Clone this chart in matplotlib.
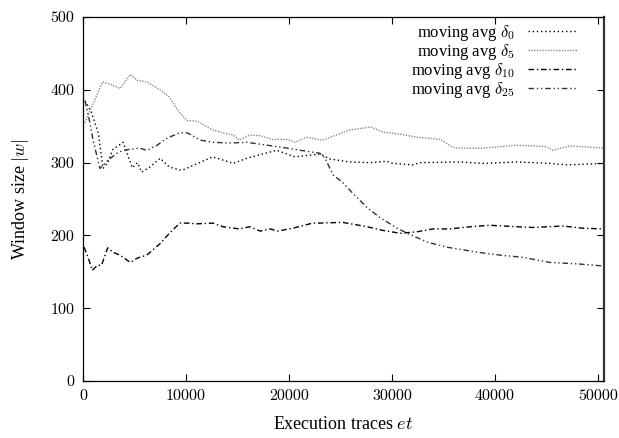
import matplotlib
matplotlib.use("Agg")
import matplotlib.pyplot as plt

# moving averages
d0_x = [200, 800, 1500, 1950, 2400, 2900, 3300, 3900, 4300, 4800, 5300, 5700,
        6500, 7500, 8400, 9400, 9700, 12600, 14600, 15900, 18800, 20600, 23000,
        24000, 25900, 27900, 29500, 30100, 32000, 32700, 36600, 37600, 38800,
        42100, 45300, 47000, 50600]
d0_y = [385, 370, 340, 292, 300, 318, 322, 328, 312, 293, 300, 287,
        294, 306, 294, 290, 290, 308, 299, 306, 317, 308, 312,
        305, 301, 300, 302, 299, 297, 300, 301, 300, 299,
        301, 299, 297, 299]

d5_x = [200, 900, 1900, 2800, 3600, 4600, 5300, 6200, 7500, 8400, 9200, 10100,
        11100, 12600, 13600, 14600, 15200, 16200, 17200, 18400, 19800, 20600,
        21700, 22800, 23300, 25900, 28000, 29100, 30800, 32400, 34000, 34700,
        35900, 36600, 38800, 42100, 45000, 45600, 47300, 50600]
d5_y = [355, 378, 411, 407, 402, 421, 413, 411, 400, 390, 372, 358,
        357, 345, 341, 338, 331, 338, 337, 332, 332, 328,
        335, 332, 331, 345, 349, 342, 339, 335, 333, 332,
        321, 320, 320, 324, 322, 317, 323, 320]

d10_x = [100, 500, 900, 1400, 1800, 2400, 2900, 3600, 4600, 5300, 6200, 7500,
         8400, 9400, 10100, 11100, 12600, 13600, 15200, 16200, 17200, 18200,
         18900, 20400, 22300, 23000, 25200, 27600, 29100, 30800, 32400, 34000,
         35600, 37600, 39500, 42100, 43700, 46600, 48500, 50600]
d10_y = [184, 170, 152, 159, 159, 183, 177, 173, 163, 169, 173, 189,
         203, 217, 217, 216, 217, 212, 209, 212, 206, 209,
         206, 210, 217, 217, 218, 212, 207, 203, 205, 209,
         209, 212, 214, 212, 211, 213, 210, 209]

d25_x = [200, 600, 1000, 1650, 2400, 3300, 3900, 4400, 5500, 6200, 7200, 8200,
         9400, 10100, 10400, 11400, 12600, 14300, 15900, 17900, 19800, 21100,
         23000, 23500, 24300, 25200, 26200, 27600, 28800, 30500, 31500, 33400,
         35300, 36600, 38300, 40500, 42700, 45300, 48000, 50600]
d25_y = [385, 360, 330, 292, 303, 313, 317, 318, 320, 317, 324, 334,
         341, 341, 339, 331, 328, 327, 328, 324, 320, 317,
         313, 306, 283, 273, 258, 238, 225, 210, 203, 191,
         184, 181, 177, 173, 170, 163, 161, 158]

labels = [r"moving avg $\delta_0$", r"moving avg $\delta_5$",
          r"moving avg $\delta_{10}$", r"moving avg $\delta_{25}$"]
x_ticks = [0, 10000, 20000, 30000, 40000, 50000]
y_ticks = [0, 100, 200, 300, 400, 500]

plt.rcParams["font.family"] = ["Liberation Serif", "DejaVu Serif"]
plt.rcParams["mathtext.fontset"] = "cm"

fig = plt.figure(figsize=(6.19, 4.38), dpi=100)
ax = fig.add_axes([0.134, 0.130, 0.842, 0.831])

ax.plot(d0_x, d0_y, color="black", lw=1.0, dashes=(1, 2), label=labels[0])
ax.plot(d5_x, d5_y, color="#8a8a8a", lw=1.0, dashes=(1, 1), label=labels[1])
ax.plot(d10_x, d10_y, color="black", lw=1.0, dashes=(4, 2, 1, 2), label=labels[2])
ax.plot(d25_x, d25_y, color="#333333", lw=1.0, dashes=(4, 2, 1, 2, 1, 2),
        label=labels[3])

ax.set_xlim(0, 50600)
ax.set_ylim(0, 500)
ax.set_xticks(x_ticks)
ax.set_yticks(y_ticks)
ax.tick_params(direction="in", top=True, right=True, length=5, width=0.8,
               labelsize=11.5, pad=6)
for lab in ax.get_xticklabels() + ax.get_yticklabels():
    lab.set_fontfamily("cmr10")
for spine in ax.spines.values():
    spine.set_linewidth(0.9)
ax.spines["right"].set_linewidth(1.6)
ax.spines["right"].set_color("#333333")

ax.set_xlabel(r"Execution traces $et$", fontsize=13, labelpad=9)
ax.set_ylabel(r"Window size $|w|$", fontsize=13, labelpad=14)

ax.legend(loc="upper right", bbox_to_anchor=(0.95, 0.985), frameon=False,
          markerfirst=False, fontsize=12, handlelength=3.0,
          labelspacing=-0.05, borderaxespad=0.0, borderpad=0.0,
          handletextpad=0.8)

fig.savefig("out.png", dpi=100)
